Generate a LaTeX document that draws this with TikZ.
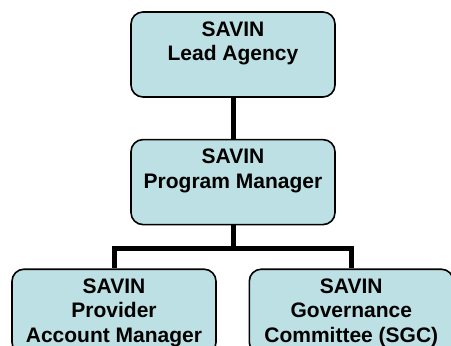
\documentclass[tikz,border=0pt]{standalone}
\usepackage{fontspec}
\setmainfont{Liberation Sans}
\usetikzlibrary{positioning}

\definecolor{boxblue}{HTML}{BCE0E3}

\begin{document}
\begin{tikzpicture}[node distance=41pt]
    \tikzstyle{orgbox}=[rectangle, rounded corners=12pt, draw=black, line width=1.6pt,
        fill=boxblue, minimum width=204pt, align=center, inner xsep=0pt, inner ysep=9pt,
        font=\fontsize{21pt}{24.7pt}\selectfont\bfseries]
    \tikzstyle{two lines}=[orgbox, text height=39.7pt, text depth=27.3pt]
    \tikzstyle{three lines}=[orgbox, text height=64.4pt, text depth=2.6pt]
    \tikzstyle{link}=[draw=black, line width=5pt]

    \useasboundingbox (0pt,0pt) rectangle (451pt,-346pt);

    % Draw the boxes.
    \node[two lines] (lead) at (233pt,-54.5pt) {SAVIN\\Lead Agency};
    \node[two lines, below=of lead] (prog) {SAVIN\\Program Manager};
    \node[three lines, below=43pt of prog, xshift=-119pt] (pam) {SAVIN\\Provider\\Account Manager};
    \node[three lines, below=43pt of prog, xshift=118.3pt] (sgc) {SAVIN\\Governance\\Committee (SGC)};

    % Connect the boxes.
    \draw[link] (lead) -- (prog);
    \draw[link] (prog.south) -- ++(0,-23pt) coordinate (bus);
    \draw[link] (pam.north) |- (bus) -| (sgc.north);
\end{tikzpicture}
\end{document}
